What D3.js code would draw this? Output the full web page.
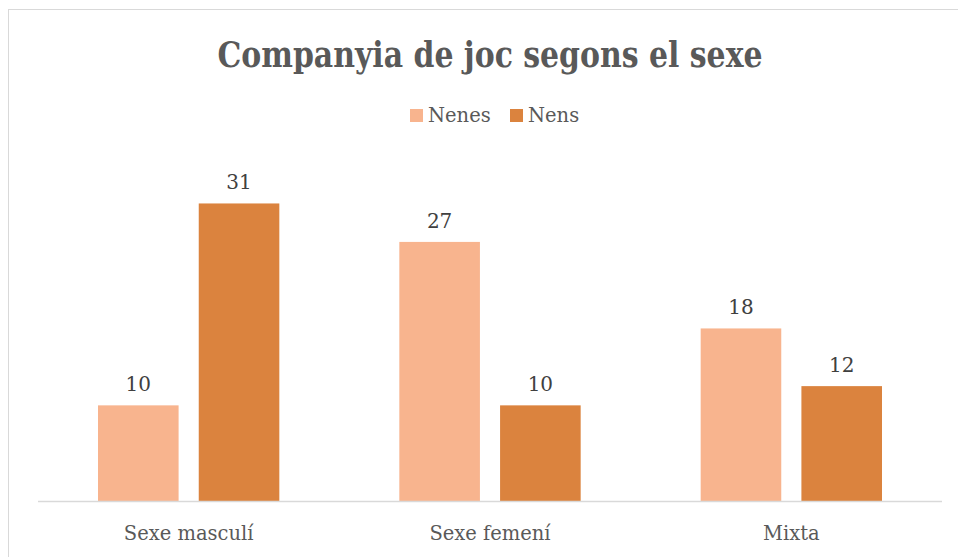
<!DOCTYPE html>
<html>
<head>
<meta charset="utf-8">
<script src="https://cdn.jsdelivr.net/npm/d3@7"></script>
<style>
  body { margin: 0; background: #fff; }
  svg { display: block; }
  text { font-family: "DejaVu Serif", "Liberation Serif", serif; }
  .title { font-family: "DejaVu Serif Condensed", "DejaVu Serif", serif; font-stretch: condensed; }
</style>
</head>
<body>
<svg id="chart" width="958" height="557"></svg>
<script>
const categories = ["Sexe masculí", "Sexe femení", "Mixta"]
const seriesNames = ["Nenes", "Nens"]
const nenes = [10, 27, 18]
const nens = [31, 10, 12]
const colors = ["#f8b48e", "#db833e"]

const svg = d3.select("#chart")

// chart frame
svg.append("rect")
    .attr("x", 8.5).attr("y", 9.5)
    .attr("width", 960).attr("height", 560)
    .attr("fill", "none")
    .attr("stroke", "#d9d9d9")

const plot = {left: 38, right: 942, top: 165, bottom: 501.5}

const x = d3.scaleBand()
    .domain(categories)
    .range([plot.left, plot.right])

const x1 = d3.scaleBand()
    .domain(seriesNames)
    .range([60, x.bandwidth() - 60])
    .paddingInner(0.2)

const y = d3.scaleLinear()
    .domain([0, 35])
    .range([plot.bottom, plot.top])

const rows = categories.map(function(c, i){
    return {cat: c, values: [
        {series: "Nenes", v: nenes[i]},
        {series: "Nens", v: nens[i]}
    ]}
})

// title
const title = svg.append("text")
    .attr("class", "title")
    .attr("x", 490).attr("y", 67)
    .attr("text-anchor", "middle")
    .attr("font-size", 35)
    .attr("font-weight", "bold")
    .attr("fill", "#595959")
    .text("Companyia de joc segons el sexe")
// keep the title to the same width as the original
if (title.node().getComputedTextLength() > 545) {
    title.attr("textLength", 545).attr("lengthAdjust", "spacingAndGlyphs")
}

// legend
const legend = svg.append("g")
const legendX = [410, 510]
seriesNames.forEach(function(s, i){
    legend.append("rect")
        .attr("x", legendX[i]).attr("y", 109)
        .attr("width", 13).attr("height", 13)
        .attr("fill", colors[i])
    legend.append("text")
        .attr("x", legendX[i] + 18).attr("y", 122)
        .attr("font-size", 19.5)
        .attr("fill", "#595959")
        .text(s)
})

const groups = svg.append("g")
    .selectAll("g")
    .data(rows)
    .join("g")
    .attr("transform", function(d){ return "translate(" + x(d.cat) + ",0)" })

groups.selectAll("rect")
    .data(function(d){ return d.values })
    .join("rect")
    .attr("x", function(d){ return x1(d.series) })
    .attr("width", x1.bandwidth())
    .attr("y", function(d){ return y(d.v) })
    .attr("height", function(d){ return y(0) - y(d.v) })
    .attr("fill", function(d, i){ return colors[i] })

groups.selectAll("text")
    .data(function(d){ return d.values })
    .join("text")
    .attr("x", function(d){ return x1(d.series) + x1.bandwidth() / 2 })
    .attr("y", function(d){ return y(d.v) - 14 })
    .attr("text-anchor", "middle")
    .attr("font-size", 20)
    .attr("fill", "#404040")
    .text(function(d){ return d.v })

// baseline
svg.append("line")
    .attr("x1", plot.left).attr("x2", plot.right)
    .attr("y1", plot.bottom).attr("y2", plot.bottom)
    .attr("stroke", "#d9d9d9")
    .attr("stroke-width", 1.5)

// category labels
svg.append("g")
    .selectAll("text")
    .data(categories)
    .join("text")
    .attr("x", function(d){ return x(d) + x.bandwidth() / 2 })
    .attr("y", 540)
    .attr("text-anchor", "middle")
    .attr("font-size", 19.5)
    .attr("fill", "#595959")
    .text(function(d){ return d })
</script>
</body>
</html>
